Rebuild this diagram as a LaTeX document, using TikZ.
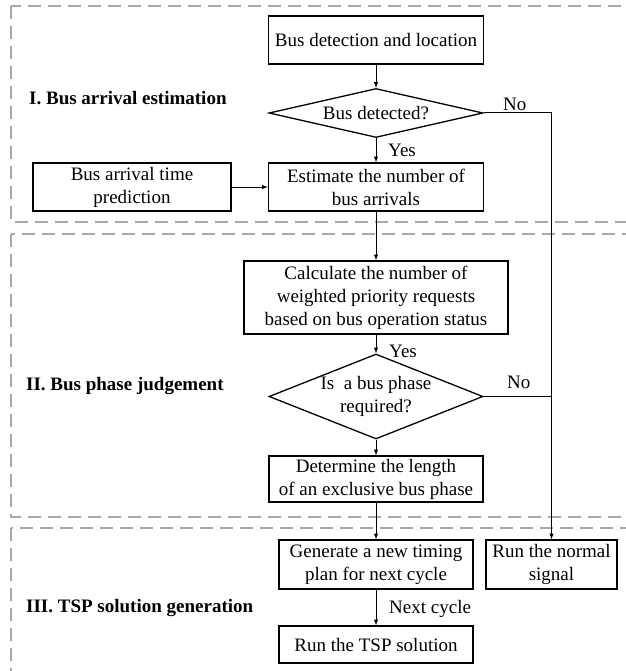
\documentclass[tikz,border=0pt]{standalone}
\usepackage{fontspec}
\setmainfont{Liberation Serif}
\usetikzlibrary{arrows.meta, shapes.geometric}
\definecolor{stagegray}{RGB}{168,168,168}

\begin{document}
\begin{tikzpicture}
  [
    x                 = 1pt,
    y                 = -1pt,
    every node/.style = {font=\fontsize{19}{23}\selectfont},
    block/.style      = {draw, line width=1.3pt, align=center, inner sep=0pt},
    decision/.style   = {draw, diamond, line width=1.3pt, align=center, inner sep=0pt},
    flow/.style       = {draw, line width=1pt, -latex},
    stage/.style      = {draw=stagegray, line width=1.3pt, dash pattern=on 13pt off 7pt},
    title/.style      = {font=\fontsize{19}{23}\selectfont\bfseries, anchor=base west, inner sep=0pt},
    tag/.style        = {anchor=base west, inner sep=0pt}
  ]

  \useasboundingbox (0,0) rectangle (625,671);

  \draw[stage] (11,6) rectangle (640,222);
  \draw[stage] (11,234) rectangle (640,517);
  \draw[stage] (11,528) rectangle (640,690);

  \node[title] (stage1) at (29,105) {I. Bus arrival estimation};
  \node[title] (stage2) at (26,390) {II. Bus phase judgement};
  \node[title] (stage3) at (26,612) {III. TSP solution generation};

  \node[block, minimum width=215pt, minimum height=48pt] (detect) at (376,40)
    {Bus detection and location};
  \node[decision, aspect=4.4, minimum width=214pt, minimum height=49pt] (detq) at (376,113)
    {Bus detected?};
  \node[block, minimum width=215pt, minimum height=48pt] (estimate) at (376,187)
    {Estimate the number of\\bus arrivals};
  \node[block, minimum width=198pt, minimum height=48pt] (predict) at (132,187)
    {Bus arrival time\\prediction};
  \node[block, minimum width=264pt, minimum height=73pt] (calc) at (376,297.5)
    {Calculate the number of\\weighted priority requests\\based on bus operation status};
  \node[decision, aspect=2.52, minimum width=214pt, minimum height=85pt] (phaseq) at (376,396.5)
    {Is~~a bus phase\\required?};
  \node[block, minimum width=214pt, minimum height=46pt] (determine) at (376,479)
    {Determine the length\\of an exclusive bus phase};
  \node[block, minimum width=194pt, minimum height=49pt] (generate) at (376,564.5)
    {Generate a new timing\\plan for next cycle};
  \node[block, minimum width=131pt, minimum height=49pt] (normal) at (551.5,564.5)
    {Run the normal\\signal};
  \node[block, minimum width=194pt, minimum height=37pt] (tsp) at (376,644.5)
    {Run the TSP solution};

  \node[tag] (yes1) at (388,157) {Yes};
  \node[tag] (yes2) at (389,357) {Yes};
  \node[tag] (no1) at (503,111) {No};
  \node[tag] (no2) at (507,388) {No};
  \node[tag] (next) at (389,613) {Next cycle};

  \draw[flow] (detect) -- (detq);
  \draw[flow] (detq) -- (estimate);
  \draw[flow] (predict) -- (estimate);
  \draw[flow] (estimate) -- (calc);
  \draw[flow] (calc) -- (phaseq);
  \draw[flow] (phaseq) -- (determine);
  \draw[flow] (determine) -- (generate);
  \draw[flow] (generate) -- (tsp);
  \draw[flow] (detq.east) -| (normal.north);
  \draw[line width=1pt] (phaseq.east) -- (phaseq.east -| normal.north);
\end{tikzpicture}
\end{document}
